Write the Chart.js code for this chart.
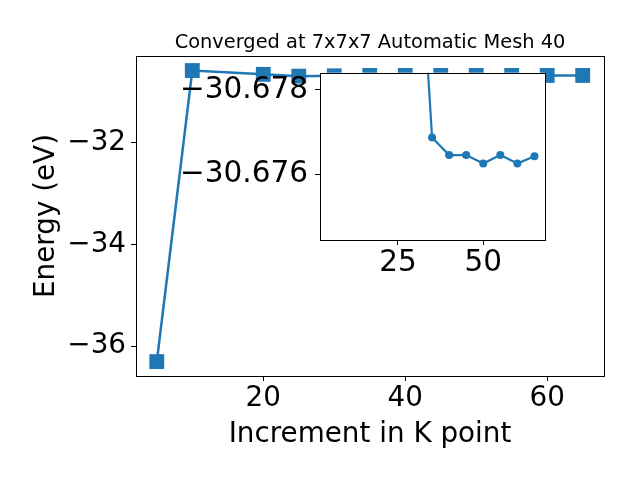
<!DOCTYPE html>
<html>
<head>
<meta charset="utf-8">
<script src="https://cdn.jsdelivr.net/npm/chart.js@4/dist/chart.umd.min.js"></script>
<style>
  body { margin: 0; background: #fff; }
  #wrap { position: relative; width: 640px; height: 480px; }
  #mainChart { position: absolute; left: 0; top: 0; }
  #insetChart { position: absolute; left: 150px; top: 60px; }
</style>
</head>
<body>
<div id="wrap">
  <canvas id="mainChart" width="640" height="480"></canvas>
  <canvas id="insetChart" width="410" height="230"></canvas>
</div>
<script>
// k point increments and total energies (eV)
const kPoints = [5, 10, 20, 25, 30, 35, 40, 45, 50, 55, 60, 65];
const energies = [-36.307, -30.58, -30.655, -30.69, -30.6834, -30.67687, -30.67645, -30.67645, -30.67625, -30.67645, -30.67625, -30.67642];
// the zoomed inset only plots from this index on
const insetStart = 4;

const mainXTicks = [20, 40, 60];
const mainYTicks = [-36, -34, -32];
const insetXTicks = [25, 50];
const insetYTicks = [-30.678, -30.676];

const titleText = 'Converged at 7x7x7 Automatic Mesh 40';
const blue = '#1f77b4';
Chart.defaults.font.family = 'DejaVu Sans';
Chart.defaults.color = '#000';

const points = kPoints.map((k, i) => ({x: k, y: energies[i]}));
const insetPoints = points.slice(insetStart);

function fmt(v, d) {
  return v.toFixed(d).replace('-', '\u2212');
}

// white face + black frame like matplotlib spines, title centred on the axes
const framePlugin = {
  id: 'frame',
  beforeDatasetsDraw(chart, args, opts) {
    if (!opts.fill) return;
    const a = chart.chartArea;
    const ctx = chart.ctx;
    ctx.save();
    ctx.fillStyle = '#fff';
    ctx.fillRect(a.left, a.top, a.right - a.left, a.bottom - a.top);
    ctx.restore();
  },
  afterDraw(chart, args, opts) {
    const a = chart.chartArea;
    const ctx = chart.ctx;
    ctx.save();
    ctx.strokeStyle = '#000';
    ctx.lineWidth = 1;
    ctx.strokeRect(Math.round(a.left) + 0.5, Math.round(a.top) + 0.5,
      Math.round(a.right - a.left), Math.round(a.bottom - a.top));
    if (opts.title) {
      ctx.fillStyle = '#000';
      ctx.font = '19.4px "DejaVu Sans"';
      ctx.textAlign = 'center';
      ctx.textBaseline = 'alphabetic';
      ctx.fillText(opts.title, (a.left + a.right) / 2, a.top - 8);
    }
    ctx.restore();
  }
};

function axisGrid() {
  return {drawOnChartArea: false, drawTicks: true, tickLength: 5, color: '#000', lineWidth: 1};
}
function noPadY(s, w) { s.width = w; s.paddingTop = 0; s.paddingBottom = 0; }
function noPadX(s, h) { s.height = h; s.paddingLeft = 0; s.paddingRight = 0; }

new Chart(document.getElementById('mainChart'), {
  type: 'line',
  data: {
    datasets: [{
      data: points,
      borderColor: blue,
      backgroundColor: blue,
      borderWidth: 2.5,
      pointStyle: 'rect',
      pointRadius: 10.5,
      pointBorderWidth: 0,
      tension: 0
    }]
  },
  plugins: [framePlugin],
  options: {
    responsive: false,
    animation: false,
    layout: {padding: {left: 0, right: 36, top: 56, bottom: 0}},
    plugins: {
      legend: {display: false},
      tooltip: {enabled: false},
      frame: {fill: false, title: titleText}
    },
    scales: {
      x: {
        type: 'linear',
        min: 2.07,
        max: 68,
        afterBuildTicks: s => { s.ticks = mainXTicks.map(v => ({value: v})); },
        afterFit: s => noPadX(s, 104),
        grid: axisGrid(),
        border: {display: false},
        ticks: {font: {size: 27.8}, padding: 1, callback: v => fmt(v, 0)},
        title: {display: true, text: 'Increment in K point', font: {size: 27.8}, padding: {top: 0, bottom: 29}}
      },
      y: {
        min: -36.59,
        max: -30.294,
        afterBuildTicks: s => { s.ticks = mainYTicks.map(v => ({value: v})); },
        afterFit: s => noPadY(s, 136),
        grid: axisGrid(),
        border: {display: false},
        ticks: {font: {size: 27.8}, padding: 5, callback: v => fmt(v, 0)},
        title: {display: true, text: 'Energy (eV)', font: {size: 27.8}, padding: {top: 30, bottom: 0}}
      }
    }
  }
});

new Chart(document.getElementById('insetChart'), {
  type: 'line',
  data: {
    datasets: [{
      data: insetPoints,
      borderColor: blue,
      backgroundColor: blue,
      borderWidth: 2.2,
      pointStyle: 'circle',
      pointRadius: 4,
      pointBorderWidth: 0,
      tension: 0
    }]
  },
  plugins: [framePlugin],
  options: {
    responsive: false,
    animation: false,
    layout: {padding: {left: 0, right: 15, top: 12.7, bottom: 0}},
    plugins: {
      legend: {display: false},
      tooltip: {enabled: false},
      frame: {fill: true}
    },
    scales: {
      x: {
        type: 'linear',
        min: 2.15,
        max: 68.1,
        afterBuildTicks: s => { s.ticks = insetXTicks.map(v => ({value: v})); },
        afterFit: s => noPadX(s, 50),
        grid: axisGrid(),
        border: {display: false},
        ticks: {font: {size: 29.5}, padding: 1, callback: v => fmt(v, 0)}
      },
      y: {
        reverse: true,
        min: -30.67841,
        max: -30.67443,
        afterBuildTicks: s => { s.ticks = insetYTicks.map(v => ({value: v})); },
        afterFit: s => noPadY(s, 170),
        grid: axisGrid(),
        border: {display: false},
        ticks: {font: {size: 29.5}, padding: 7, callback: v => fmt(v, 3)}
      }
    }
  }
});
</script>
</body>
</html>
